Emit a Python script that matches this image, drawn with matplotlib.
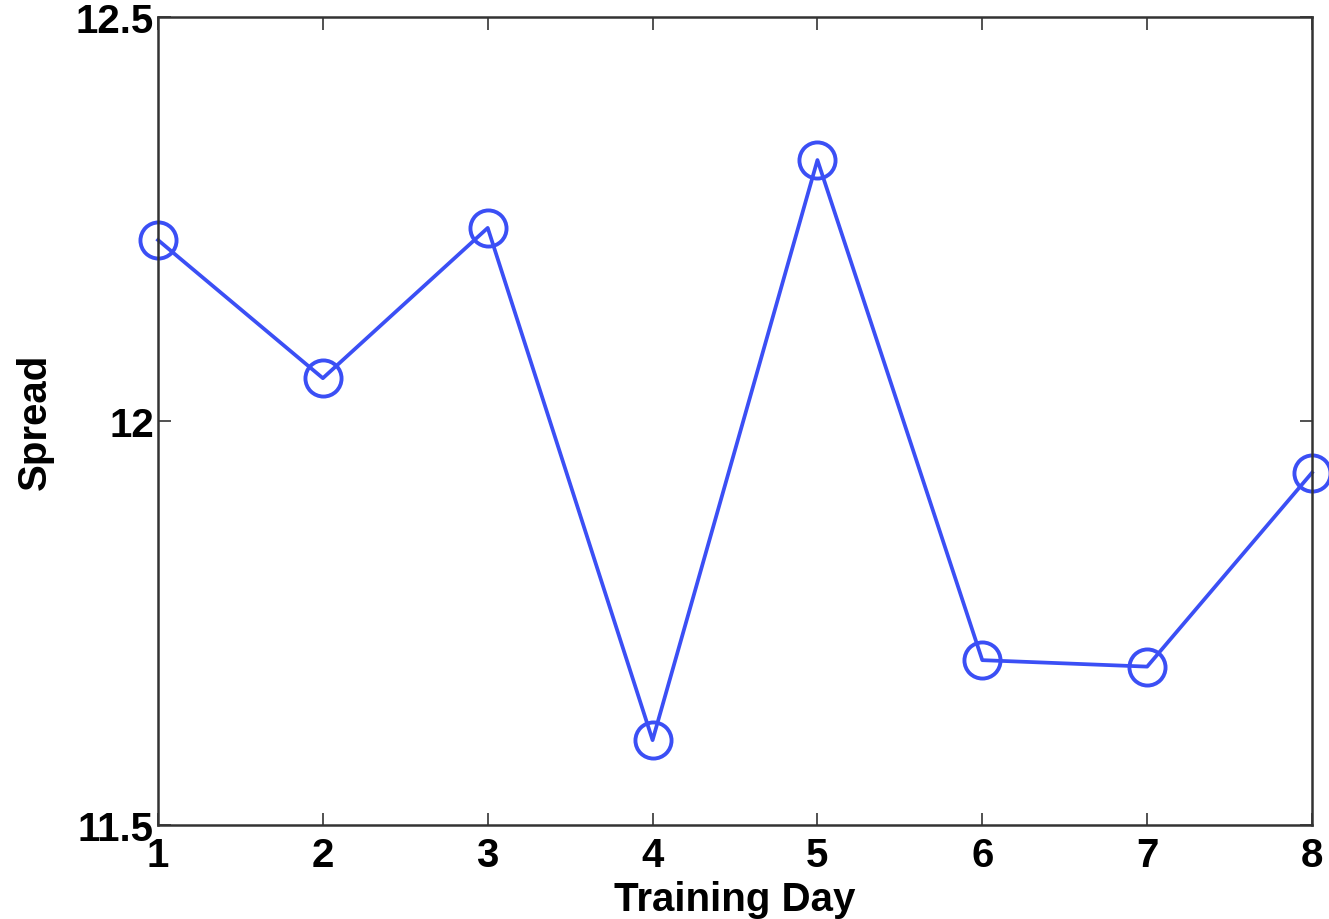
import matplotlib.pyplot as plt

plt.rcParams['font.family'] = ['Liberation Sans', 'DejaVu Sans']

days = [1, 2, 3, 4, 5, 6, 7, 8]
spread = [12.224, 12.053, 12.239, 11.605, 12.323, 11.704, 11.696, 11.936]
x_ticks = [1, 2, 3, 4, 5, 6, 7, 8]
y_ticks = [11.5, 12, 12.5]
y_labels = ['11.5', '12', '12.5']

fig = plt.figure(figsize=(13.29, 9.2), dpi=100)
ax = fig.add_axes([0.1189, 0.1022, 0.8683, 0.8782])

ax.plot(days, spread, color='#3b4ff5', linewidth=2.7, marker='o', markersize=26,
        markerfacecolor='none', markeredgecolor='#3b4ff5', markeredgewidth=2.8,
        clip_on=False)

ax.set_xlim(1, 8)
ax.set_ylim(11.5, 12.5)
ax.set_xticks(x_ticks)
ax.set_yticks(y_ticks)
ax.set_yticklabels(y_labels)
ax.tick_params(direction='in', length=9, width=1.2, top=True, right=True,
               labelsize=29, colors='#333333', labelcolor='black', pad=3)
ax.tick_params(axis='x', pad=8)
for lab in ax.get_xticklabels() + ax.get_yticklabels():
    lab.set_fontweight('bold')
for s in ax.spines.values():
    s.set_linewidth(1.8)
    s.set_color('#333333')

ax.set_xlabel('Training Day', fontsize=29, fontweight='bold', labelpad=4)
ax.set_ylabel('Spread', fontsize=29, fontweight='bold', labelpad=16)

fig.savefig('out.png', dpi=100)
